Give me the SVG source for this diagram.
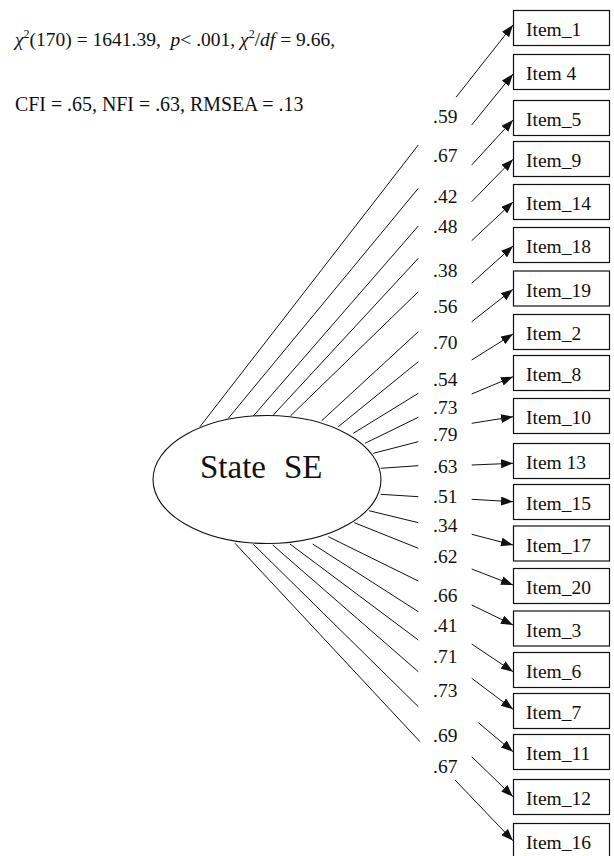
<svg xmlns="http://www.w3.org/2000/svg" width="614" height="856" viewBox="0 0 614 856">
  <style>
    text { font-family: "Liberation Serif", "Times New Roman", serif; fill: #111; }
    .stat { font-size: 19.5px; }
    .stat2 { font-size: 19.9px; }
    .sup { font-size: 12px; }
    .it { font-style: italic; }
    .lv { font-size: 33px; }
    .box { fill: #fff; stroke: #111; stroke-width: 1.2; }
    .item { font-size: 19.5px; }
    .load { font-size: 19.5px; }
    .path { fill: none; stroke: #111; stroke-width: 1; }
    .latent { fill: #fff; stroke: #111; stroke-width: 1.1; }
  </style>
  <defs>
    <marker id="arrow" viewBox="0 0 12 9" refX="12" refY="4.5" markerWidth="12" markerHeight="9" markerUnits="userSpaceOnUse" orient="auto">
      <path d="M0,0 L12,4.5 L0,9 z" fill="#111"/>
    </marker>
  </defs>
  <rect width="614" height="856" fill="#fff"/>

  <!-- model fit statistics -->
  <g id="fit">
    <text class="stat" x="15" y="46" xml:space="preserve"><tspan class="it">χ</tspan><tspan class="sup" dy="-8">2</tspan><tspan dy="8">(170) = 1641.39,  </tspan><tspan class="it">p</tspan>&lt; .001, <tspan class="it">χ</tspan><tspan class="sup" dy="-8">2</tspan><tspan dy="8">/</tspan><tspan class="it">df</tspan> = 9.66,</text>
    <text class="stat2" x="15" y="110.7">CFI = .65, NFI = .63, RMSEA = .13</text>
  </g>

  <!-- factor loadings: each path is broken where its coefficient sits -->
  <g id="connectors" class="path">
    <path d="M200,426.7 L418.3,145 M456,97.3 L513,25" marker-end="url(#arrow)"/>
    <path d="M228.3,418.3 L418.3,188.3 M471.7,125 L513,74" marker-end="url(#arrow)"/>
    <path d="M253.3,416 L418.3,226 M471.7,165 L513,120" marker-end="url(#arrow)"/>
    <path d="M272.7,415.7 L418.3,258.3 M471.7,201.7 L513,159.3" marker-end="url(#arrow)"/>
    <path d="M290.7,415.7 L418.3,291.7 M471.7,240.7 L513,202" marker-end="url(#arrow)"/>
    <path d="M321.7,420.7 L418.3,331.7 M471.7,283.3 L513,246" marker-end="url(#arrow)"/>
    <path d="M338.3,426.7 L418.3,361.7 M471.7,321.7 L513,289.3" marker-end="url(#arrow)"/>
    <path d="M353.3,433.3 L418.3,393.3 M471.7,360 L513,334" marker-end="url(#arrow)"/>
    <path d="M365,443.3 L418.3,417.3 M471.7,394 L513,376.7" marker-end="url(#arrow)"/>
    <path d="M373.3,453.3 L418.3,441.7 M471.7,423.3 L513,416.7" marker-end="url(#arrow)"/>
    <path d="M380.7,468.3 L418.3,465.7 M471.7,465 L513,463.3" marker-end="url(#arrow)"/>
    <path d="M380.7,494.3 L418.3,496.7 M471.7,499.3 L513,501.7" marker-end="url(#arrow)"/>
    <path d="M369,510.7 L418.3,522.7 M471.7,534.3 L513,545" marker-end="url(#arrow)"/>
    <path d="M354.3,522.7 L418.3,548.3 M471.7,569 L513,585" marker-end="url(#arrow)"/>
    <path d="M328.3,536.7 L418.3,581 M471.7,605 L513,625" marker-end="url(#arrow)"/>
    <path d="M312.7,544 L418.3,611.7 M471.7,644 L513,671.7" marker-end="url(#arrow)"/>
    <path d="M290,544 L418.3,640 M471.7,678.3 L513,709.3" marker-end="url(#arrow)"/>
    <path d="M272.7,545 L418.3,671.7 M478.3,722.7 L513,751.7" marker-end="url(#arrow)"/>
    <path d="M253.3,544.3 L418.3,706.7 M471.7,756.7 L513,796.7" marker-end="url(#arrow)"/>
    <path d="M235,543.3 L420,741.7 M455,780 L513,840.7" marker-end="url(#arrow)"/>
  </g>

  <g id="loadings" class="load">
    <text x="433" y="123.3">.59</text>
    <text x="433" y="161.7">.67</text>
    <text x="433" y="202.7">.42</text>
    <text x="433" y="233.3">.48</text>
    <text x="433" y="276.7">.38</text>
    <text x="433" y="312.7">.56</text>
    <text x="433" y="349.3">.70</text>
    <text x="433" y="386">.54</text>
    <text x="433" y="414">.73</text>
    <text x="433" y="440.7">.79</text>
    <text x="433" y="473.3">.63</text>
    <text x="433" y="503.3">.51</text>
    <text x="433" y="531.7">.34</text>
    <text x="433" y="563.3">.62</text>
    <text x="433" y="601.7">.66</text>
    <text x="433" y="631.7">.41</text>
    <text x="433" y="662.7">.71</text>
    <text x="433" y="697.3">.73</text>
    <text x="433" y="741.7">.69</text>
    <text x="433" y="773.3">.67</text>
  </g>

  <!-- latent factor -->
  <g id="state-se">
    <ellipse class="latent" cx="267" cy="479.5" rx="114" ry="64"/>
    <text class="lv" x="200" y="478">State</text>
    <text class="lv" x="284" y="478">SE</text>
  </g>

  <!-- observed indicators -->
  <g id="item1"><rect class="box" x="513.5" y="10.5" width="96" height="35"/><text class="item" x="526" y="36">Item_1</text></g>
  <g id="item4"><rect class="box" x="513.5" y="54.5" width="96" height="35"/><text class="item" x="526" y="80">Item 4</text></g>
  <g id="item5"><rect class="box" x="513.5" y="100.5" width="96" height="35"/><text class="item" x="526" y="126">Item_5</text></g>
  <g id="item9"><rect class="box" x="513.5" y="141.5" width="96" height="35"/><text class="item" x="526" y="167">Item_9</text></g>
  <g id="item14"><rect class="box" x="513.5" y="184.5" width="96" height="35"/><text class="item" x="526" y="210">Item_14</text></g>
  <g id="item18"><rect class="box" x="513.5" y="227.5" width="96" height="35"/><text class="item" x="526" y="253">Item_18</text></g>
  <g id="item19"><rect class="box" x="513.5" y="271" width="96" height="35"/><text class="item" x="526" y="296.5">Item_19</text></g>
  <g id="item2"><rect class="box" x="513.5" y="314.5" width="96" height="35"/><text class="item" x="526" y="340">Item_2</text></g>
  <g id="item8"><rect class="box" x="513.5" y="355.5" width="96" height="35"/><text class="item" x="526" y="381">Item_8</text></g>
  <g id="item10"><rect class="box" x="513.5" y="398.5" width="96" height="35"/><text class="item" x="526" y="424">Item_10</text></g>
  <g id="item13"><rect class="box" x="513.5" y="443.5" width="96" height="35"/><text class="item" x="526" y="469">Item 13</text></g>
  <g id="item15"><rect class="box" x="513.5" y="484.5" width="96" height="35"/><text class="item" x="526" y="510">Item_15</text></g>
  <g id="item17"><rect class="box" x="513.5" y="526" width="96" height="35"/><text class="item" x="526" y="551.5">Item_17</text></g>
  <g id="item20"><rect class="box" x="513.5" y="568.5" width="96" height="35"/><text class="item" x="526" y="594">Item_20</text></g>
  <g id="item3"><rect class="box" x="513.5" y="611" width="96" height="35"/><text class="item" x="526" y="636.5">Item_3</text></g>
  <g id="item6"><rect class="box" x="513.5" y="652.5" width="96" height="35"/><text class="item" x="526" y="678">Item_6</text></g>
  <g id="item7"><rect class="box" x="513.5" y="693.5" width="96" height="35"/><text class="item" x="526" y="719">Item_7</text></g>
  <g id="item11"><rect class="box" x="513.5" y="734.5" width="96" height="35"/><text class="item" x="526" y="760">Item_11</text></g>
  <g id="item12"><rect class="box" x="513.5" y="779.5" width="96" height="35"/><text class="item" x="526" y="805">Item_12</text></g>
  <g id="item16"><rect class="box" x="513.5" y="823.5" width="96" height="35"/><text class="item" x="526" y="849">Item_16</text></g>
</svg>
